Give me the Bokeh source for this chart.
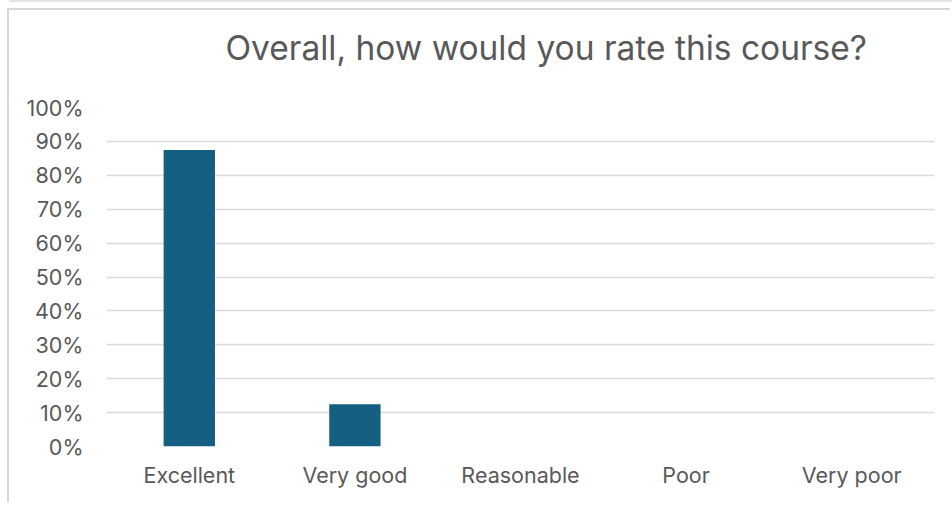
from bokeh.plotting import figure
from bokeh.models import Range1d, NumeralTickFormatter, FixedTicker, Title
from bokeh.embed import file_html
from bokeh.resources import INLINE

categories = ["Excellent", "Very good", "Reasonable", "Poor", "Very poor"]
shares = [0.875, 0.125, 0.0, 0.0, 0.0]
y_ticks = [0.0, 0.1, 0.2, 0.3, 0.4, 0.5, 0.6, 0.7, 0.8, 0.9, 1.0]
title_text = "Overall, how would you rate this course?"

FONT = "Inter"
TEXT = "#595959"
GRID = "#d9d9d9"
BAR = "#156082"

p = figure(x_range=categories, y_range=Range1d(0, 1), width=943, height=494,
           output_backend="svg", toolbar_location=None,
           min_border_left=97, min_border_right=18, min_border_top=97,
           min_border_bottom=58)
p.margin = (10, 0, 0, 9)
p.styles = {"box-shadow": "-2px -2px 0 0 #d9d9d9, 0 -8px 0 0 #ffffff, 0 -10px 0 0 #e3e3e3"}

p.vbar(x=categories, top=shares, width=0.31, fill_color=BAR, line_color=None)

# spacer between the plot frame and the title, then the title itself
p.add_layout(Title(text=" ", text_font_size="1px", standoff=37), "above")
p.add_layout(Title(text=title_text, align="left", offset=119, standoff=0,
                   text_font=FONT, text_font_size="33.5px", text_font_style="normal",
                   text_color=TEXT), "above")

p.outline_line_color = None
p.background_fill_color = "white"
p.border_fill_color = "white"

p.xgrid.grid_line_color = None
p.ygrid.grid_line_color = GRID
p.ygrid.grid_line_width = 1.5

p.yaxis.ticker = FixedTicker(ticks=y_ticks)
p.yaxis.formatter = NumeralTickFormatter(format="0%")
for ax in (p.xaxis[0], p.yaxis[0]):
    ax.axis_line_color = None
    ax.major_tick_line_color = None
    ax.minor_tick_line_color = None
    ax.major_tick_out = 0
    ax.major_tick_in = 0
    ax.major_label_text_font = FONT
    ax.major_label_text_font_size = "21.5px"
    ax.major_label_text_color = TEXT
p.yaxis.major_label_standoff = 23
p.xaxis.major_label_standoff = 15

open("out.html", "w").write(file_html(p, INLINE))
